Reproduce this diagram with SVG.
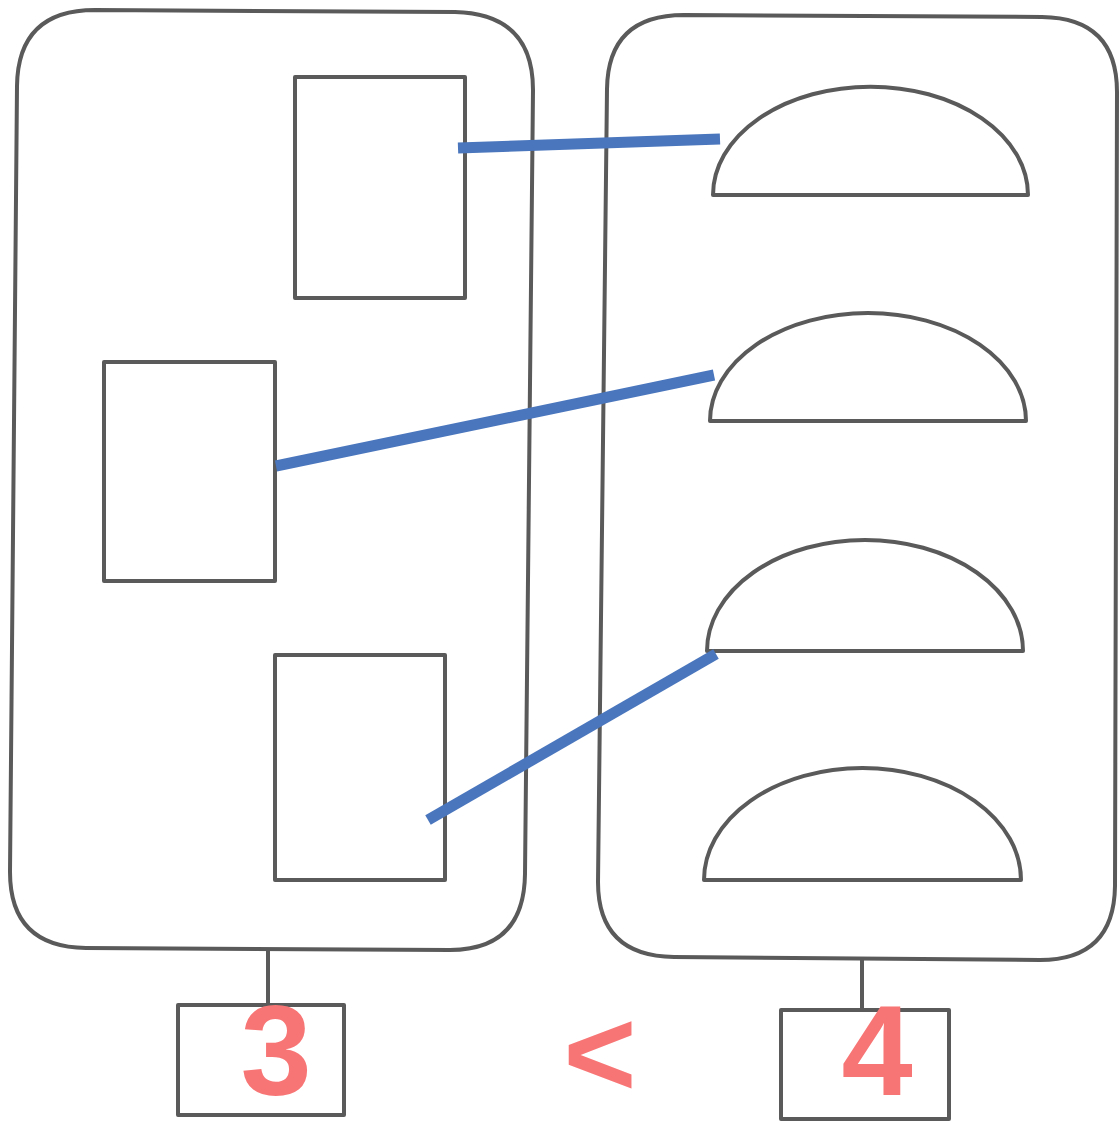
<svg xmlns="http://www.w3.org/2000/svg" width="1119" height="1123" viewBox="0 0 1119 1123">
<style>
.o{fill:none;stroke:#5a5a5a;stroke-width:4;stroke-linejoin:round}
.c{stroke:#4a76bd;stroke-width:11;fill:none}
.t{font-family:"Liberation Sans",Arial,sans-serif;font-weight:bold;fill:#f87575}
</style>
<rect width="1119" height="1123" fill="#fff"/>
<g id="left-panel">
<path class="o" d="M95,10 L455,12 Q533,14 533,90 L525,874 Q524,950 450,950 L86,948 Q10,947 10,872 L17,86 Q18,10 95,10 Z"/>
</g>
<g id="rect1"><rect class="o" x="295" y="77" width="170" height="221"/></g>
<g id="rect2"><rect class="o" x="104" y="362" width="171" height="219"/></g>
<g id="rect3"><rect class="o" x="275" y="655" width="170" height="225"/></g>
<g id="right-panel">
<path class="o" d="M684,15 L1042,17 Q1117,18 1117,92 L1115,886 Q1114,960 1040,960 L674,957 Q598,956 598,882 L607,89 Q608,15 684,15 Z"/>
</g>
<g id="dome1"><path class="o" d="M713,195 A157,108 0 0 1 1028,195 Z"/></g>
<g id="dome2"><path class="o" d="M710,421 A158,108 0 0 1 1026,421 Z"/></g>
<g id="dome3"><path class="o" d="M707,651 A158,111 0 0 1 1023,651 Z"/></g>
<g id="dome4"><path class="o" d="M704,880 A158.5,112 0 0 1 1021,880 Z"/></g>
<g id="box3"><rect class="o" x="178" y="1005" width="166" height="110"/></g>
<g id="box4"><rect class="o" x="781" y="1010" width="168" height="109"/></g>
<g id="connectors">
<line class="o" x1="268" y1="950" x2="268" y2="1005"/>
<line class="o" x1="862" y1="959" x2="862" y2="1010"/>
<line class="c" x1="458" y1="148" x2="720" y2="139"/>
<line class="c" x1="276" y1="466" x2="714" y2="375"/>
<line class="c" x1="428" y1="820" x2="716" y2="654"/>
</g>
<g id="labels">
<text class="t" x="276" y="1095" font-size="128" text-anchor="middle">3</text>
<text class="t" x="600" y="1096" font-size="125" text-anchor="middle">&lt;</text>
<text class="t" x="877" y="1095" font-size="128" text-anchor="middle">4</text>
</g>
</svg>
